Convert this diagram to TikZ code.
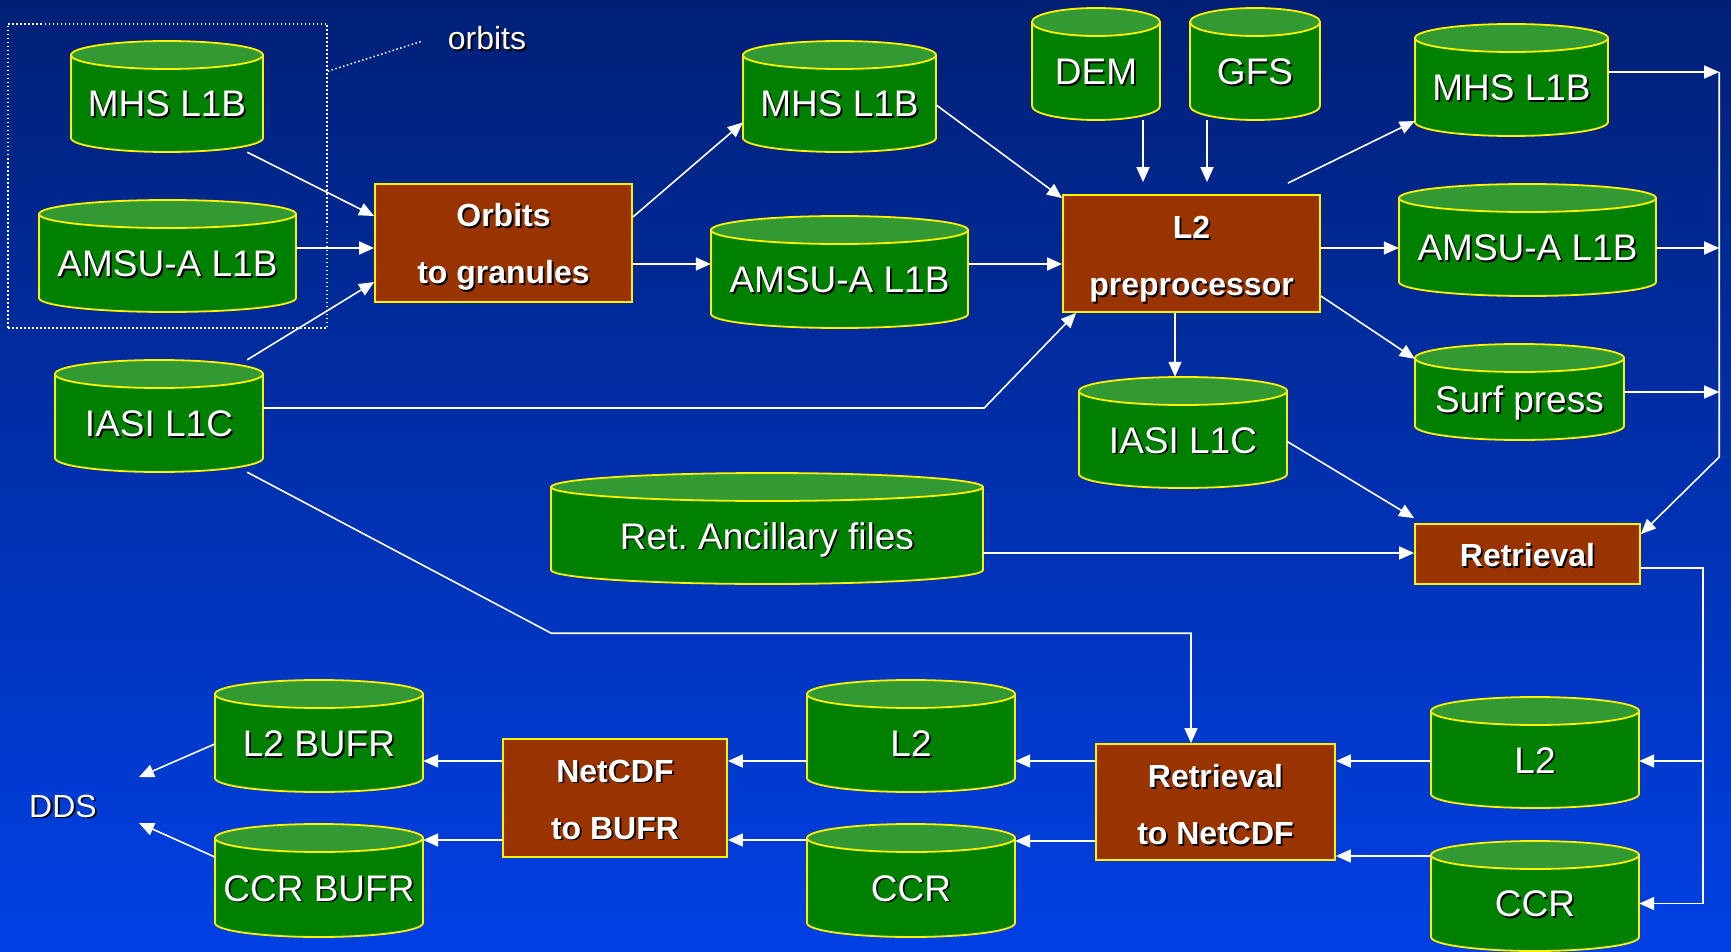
\documentclass[tikz,border=0pt]{standalone}
\usepackage{fontspec}
\setmainfont{Liberation Sans}
\usetikzlibrary{arrows.meta,calc}

\definecolor{dbgreen}{RGB}{0,128,0}
\definecolor{dblight}{RGB}{51,153,51}
\definecolor{procbrown}{RGB}{153,51,0}
\definecolor{bgtop}{RGB}{0,32,118}
\definecolor{bgmid}{RGB}{0,50,185}
\definecolor{bgbot}{RGB}{0,64,228}

% white text with a dark drop shadow (optional: lower the line)
\newcommand{\shd}[2][0pt]{\raisebox{-#1}[\height][\depth]{\makebox[0pt][l]{\kern1.8pt\raisebox{-1.8pt}{\color{black}#2}}#2}}

% data store: name, x, y, width, height, text
\newcommand{\dbase}[6]{%
  \filldraw[dbbody] (#2-#4/2,#3-#5/2+14) -- (#2-#4/2,#3+#5/2-14)
    arc[start angle=180,end angle=0,x radius=#4/2,y radius=14]
    -- (#2+#4/2,#3-#5/2+14) -- cycle;
  \filldraw[dbtop] (#2,#3-#5/2+14) ellipse[x radius=#4/2,y radius=14];
  \node[dbtext,minimum width=#4,minimum height=#5] (#1) at (#2,#3) {\shd{#6}};
}

\begin{document}
\frenchspacing
\begin{tikzpicture}[x=1pt, y=-1pt,
    dbbody/.style={fill=dbgreen, draw=yellow, line width=1.8pt},
    dbtop/.style={fill=dblight, draw=yellow, line width=1.8pt},
    dbtext/.style={text=white, font=\fontsize{37}{44}\selectfont, text height=41pt, text depth=0pt, inner sep=0pt},
    proc/.style={fill=procbrown, draw=yellow, line width=1.8pt, text=white, font=\bfseries\fontsize{32}{57}\selectfont, align=center, inner sep=0pt},
    note/.style={text=white, font=\fontsize{32}{38}\selectfont, inner sep=0pt},
    arr/.style={draw=white, line width=1.6pt, -{Triangle[length=15pt,width=13pt]}},
    wire/.style={draw=white, line width=1.6pt},
    grp/.style={draw=white, line width=1.5pt, dash pattern=on 1.5pt off 2.5pt}]

    % Background
    \useasboundingbox (0,0) rectangle (1731,952);
    \shade[top color=bgtop, middle color=bgmid, bottom color=bgbot] (0,0) rectangle (1731,952);

    % Orbit inputs
    \node[grp, minimum width=319, minimum height=304] (orbgrp) at (167.5,176) {};
    \node[note] (orbits) at (487,39) {\shd{orbits}};
    \dbase{mhsA}{167}{96.5}{192}{111}{MHS L1B}
    \dbase{amsuA}{167.5}{256}{257}{112}{AMSU-A L1B}
    \dbase{iasiA}{159}{416}{208}{112}{IASI L1C}

    % Granules and preprocessor inputs
    \dbase{mhsB}{839.5}{96.5}{193}{111}{MHS L1B}
    \dbase{amsuB}{839.5}{272}{257}{112}{AMSU-A L1B}
    \dbase{dem}{1096}{64}{128}{112}{DEM}
    \dbase{gfs}{1255}{64}{130}{112}{GFS}

    % Preprocessor outputs
    \dbase{mhsC}{1511.5}{80}{193}{112}{MHS L1B}
    \dbase{amsuC}{1527.5}{240}{257}{112}{AMSU-A L1B}
    \dbase{surf}{1519.5}{392}{209}{96}{Surf press}
    \dbase{iasiB}{1183}{432.5}{208}{111}{IASI L1C}
    \dbase{anc}{767}{528.5}{432}{111}{Ret. Ancillary files}

    % Retrieval products
    \dbase{l2C}{1535}{752.5}{208}{111}{L2}
    \dbase{ccrC}{1535}{896}{208}{110}{CCR}
    \dbase{l2B}{911}{736}{208}{112}{L2}
    \dbase{ccrB}{911}{880.5}{208}{113}{CCR}
    \dbase{l2bufr}{319}{736}{208}{112}{L2 BUFR}
    \dbase{ccrbufr}{319}{880.5}{208}{113}{CCR BUFR}
    \node[note] (dds) at (63,807) {\shd{DDS}};

    % Processes
    \node[proc, minimum width=257, minimum height=118] (orb) at (503.5,243) {\shd[5pt]{Orbits}\\\shd[5pt]{to granules}};
    \node[proc, minimum width=257, minimum height=117] (pre) at (1191.5,253.5) {\shd[6.5pt]{L2}\\\shd[6.5pt]{preprocessor}};
    \node[proc, minimum width=225, minimum height=60] (ret) at (1527.5,554) {\shd[2pt]{Retrieval}};
    \node[proc, minimum width=239, minimum height=116] (r2n) at (1215.5,802) {\shd[3.5pt]{Retrieval}\\\shd[3.5pt]{to NetCDF}};
    \node[proc, minimum width=224, minimum height=118] (n2b) at (615,798) {\shd[2.5pt]{NetCDF}\\\shd[2.5pt]{to BUFR}};

    % Orbits to granules
    \draw[grp] ($(orbgrp.north east)+(0,48)$) -- ($(orbits.west)+(-25,2)$);
    \draw[arr] ($(mhsA.south east)+(-16,0)$) -- ($(orb.west)+(0,-27)$);
    \draw[arr] ($(amsuA.east)+(0,-8)$) -- ({$(amsuA.east)+(0,-8)$} -| orb.west);
    \draw[arr] ($(iasiA.north east)+(-16,0)$) -- ($(orb.west)+(0,39)$);
    \draw[arr] ($(orb.east)+(0,-26)$) -- ($(mhsB.west)+(0,26)$);
    \draw[arr] ($(orb.east)+(0,21)$) -- ({$(orb.east)+(0,21)$} -| amsuB.west);

    % Into the preprocessor
    \draw[arr] ($(mhsB.east)+(0,8.5)$) -- ($(pre.north west)+(0,4)$);
    \draw[arr] ($(amsuB.east)+(0,-8)$) -- ({$(amsuB.east)+(0,-8)$} -| pre.west);
    \draw[arr] ($(dem.south)+(47,0)$) -- ($(pre.north)+(-48.5,-12)$);
    \draw[arr] ($(gfs.south)+(-48,0)$) -- ($(pre.north)+(15.5,-12)$);
    \draw[arr] ($(iasiA.east)+(0,-8)$) -- ++(721,0) -- ($(pre.south west)+(14,0)$);

    % Out of the preprocessor
    \draw[arr] ($(pre.north east)+(-33,-11)$) -- ($(mhsC.west)+(0,41)$);
    \draw[arr] ($(pre.east)+(0,-5.5)$) -- ({$(pre.east)+(0,-5.5)$} -| amsuC.west);
    \draw[arr] ($(pre.east)+(0,42.5)$) -- ($(surf.north west)+(0,15)$);
    \draw[arr] ($(pre.south)+(-16.5,0)$) -- ($(iasiB.north)+(-8,0)$);

    % Into the retrieval
    \draw[arr] ($(mhsC.east)+(0,-8)$) -- ++(111,0);
    \draw[arr] ($(amsuC.east)+(0,8)$) -- ++(63,0);
    \draw[arr] (surf.east) -- ++(95,0);
    \draw[arr] ($(mhsC.east)+(111,-8)$) -- ++(0,385) -- ($(ret.north east)+(0,11)$);
    \draw[arr] ($(iasiB.east)+(0,9)$) -- ($(ret.north west)+(0,-5)$);
    \draw[arr] ($(anc.east)+(0,24.5)$) -- ({$(anc.east)+(0,24.5)$} -| ret.west);

    % Retrieval outputs
    \draw[wire] ($(ret.east)+(0,14)$) -| ($(ccrC.east)+(64,7.5)$);
    \draw[arr] ($(l2C.east)+(64,8.5)$) -- ($(l2C.east)+(0,8.5)$);
    \draw[arr] ($(ccrC.east)+(64,7.5)$) -- ($(ccrC.east)+(0,7.5)$);
    \draw[arr] ($(iasiA.south east)+(-16,0)$) -- ++(304,161) -| ($(r2n.north)+(-24.5,0)$);

    % Conversion chain
    \draw[arr] ($(l2C.west)+(0,8.5)$) -- ({$(l2C.west)+(0,8.5)$} -| r2n.east);
    \draw[arr] ($(ccrC.west)+(0,-40)$) -- ({$(ccrC.west)+(0,-40)$} -| r2n.east);
    \draw[arr] ($(r2n.west)+(0,-41)$) -- ({$(r2n.west)+(0,-41)$} -| l2B.east);
    \draw[arr] ($(r2n.west)+(0,39)$) -- ({$(r2n.west)+(0,39)$} -| ccrB.east);
    \draw[arr] ($(l2B.west)+(0,25)$) -- ({$(l2B.west)+(0,25)$} -| n2b.east);
    \draw[arr] ($(ccrB.west)+(0,-40.5)$) -- ({$(ccrB.west)+(0,-40.5)$} -| n2b.east);
    \draw[arr] ($(n2b.west)+(0,-37)$) -- ({$(n2b.west)+(0,-37)$} -| l2bufr.east);
    \draw[arr] ($(n2b.west)+(0,42)$) -- ({$(n2b.west)+(0,42)$} -| ccrbufr.east);

    % To DDS
    \draw[arr] ($(l2bufr.west)+(0,8)$) -- ($(dds.east)+(42,-30)$);
    \draw[arr] ($(ccrbufr.west)+(0,-23.5)$) -- ($(dds.east)+(42,16)$);
\end{tikzpicture}
\end{document}
